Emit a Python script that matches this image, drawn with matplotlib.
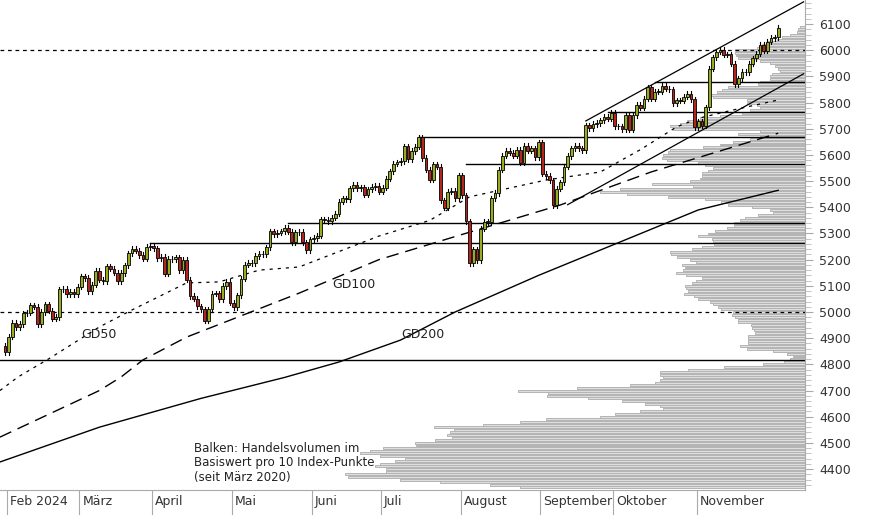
import numpy as np
import matplotlib.pyplot as plt

# daily closes, Jan 31 2024 .. Dec 4 2024
closes = [4846,
    4906, 4958, 4942, 4954, 4995, 4997, 5026, 5021, 4953, 5000, 5029, 5005, 4975, 4981, 5087, 5088, 5069, 5078, 5069, 5096,
    5137, 5130, 5079, 5104, 5157, 5124, 5117, 5175, 5165, 5150, 5117, 5149, 5178, 5224, 5241, 5234, 5218, 5203, 5248, 5254,
    5243, 5205, 5211, 5147, 5204, 5202, 5209, 5160, 5199, 5123, 5061, 5051, 5022, 5011, 4967, 5010, 5070, 5071, 5048, 5099, 5116, 5036,
    5018, 5064, 5128, 5181, 5187, 5187, 5214, 5223, 5221, 5247, 5309, 5297, 5303, 5308, 5321, 5307, 5267, 5304, 5306, 5266, 5235, 5278,
    5283, 5291, 5354, 5352, 5347, 5360, 5375, 5421, 5434, 5431, 5473, 5487, 5473, 5477, 5448, 5469, 5478, 5483, 5460,
    5475, 5509, 5537, 5567, 5572, 5577, 5633, 5584, 5615, 5631, 5667, 5588, 5544, 5505, 5564, 5555, 5427, 5399, 5459, 5463, 5436, 5522,
    5446, 5347, 5186, 5240, 5199, 5319, 5344, 5344, 5434, 5455, 5543, 5597, 5616, 5608, 5597, 5620, 5570, 5634, 5617, 5625, 5592, 5648,
    5528, 5520, 5503, 5408, 5471, 5496, 5555, 5596, 5626, 5634, 5626, 5618, 5713, 5703, 5718, 5722, 5732, 5745, 5738, 5762,
    5709, 5709, 5699, 5751, 5696, 5751, 5792, 5780, 5815, 5859, 5815, 5842, 5841, 5865, 5853, 5851, 5797, 5809, 5808, 5823, 5833, 5813, 5705,
    5728, 5712, 5782, 5929, 5973, 5995, 6001, 5983, 5985, 5949, 5870, 5893, 5917, 5916, 5948, 5969, 5987, 6021, 5999, 6032,
    6047, 6049, 6086]
first_open = 4870

months = ["Feb 2024", "März", "April", "Mai", "Juni", "Juli", "August", "September", "Oktober", "November"]
month_start = [1, 21, 41, 63, 85, 104, 126, 148, 168, 191]

# moving averages (candle index, value)
gd50_idx = [-1.4, 3.6, 12.4, 26, 35, 50, 59, 70, 81, 103, 117, 128, 149, 164, 175, 185, 191, 200, 213]
gd50 = [4700, 4752, 4824, 4943, 5008, 5111, 5115, 5160, 5172, 5290, 5350, 5440, 5504, 5535, 5620, 5707, 5740, 5770, 5810]
gd100_idx = [-1.4, 26, 32, 38, 50, 67, 81, 103, 128, 153, 178, 213]
gd100 = [4522, 4700, 4752, 4817, 4904, 4996, 5072, 5200, 5305, 5409, 5535, 5683]
gd200_idx = [-1.4, 26, 54, 77, 92, 109, 124, 147, 169, 191, 213]
gd200 = [4427, 4560, 4670, 4750, 4809, 4893, 5000, 5140, 5265, 5390, 5465]

# volume profile: left edge in pixels per 10 index points from 4330
vp_levels = np.arange(4330, 6091, 10)
vp_left_px = [520, 490, 440, 400, 348, 345, 386,
    386, 375, 380, 395, 405, 380, 360, 370, 383, 416,
    415, 435, 452, 447, 450, 454, 434, 483, 520, 546,
    600, 615, 640, 663, 660, 645, 622, 588, 547, 548,
    518, 577, 630, 655, 660, 663, 660, 660, 688, 724,
    763, 784, 790, 793, 787, 773, 747, 740, 748, 748,
    748, 748, 755, 754, 752, 751, 738, 738, 735, 732,
    733, 721, 718, 713, 710, 698, 694, 684, 688, 686,
    685, 692, 696, 702, 686, 676, 683, 685, 682, 696,
    690, 677, 671, 670, 692, 702, 714, 713, 712, 698,
    708, 715, 727, 734, 734, 740, 745, 758, 773, 770,
    752, 728, 721, 705, 668, 627, 600, 620, 693, 652,
    690, 700, 702, 702, 708, 713, 705, 698, 667, 662,
    663, 668, 670, 703, 720, 733, 750, 760, 738, 760,
    673, 670, 680, 687, 700, 720, 742, 750, 760, 757,
    747, 747, 713, 710, 717, 722, 728, 758, 760, 770,
    770, 772, 780, 778, 775, 770, 760, 738, 736, 735,
    735, 757, 762, 767, 777, 782, 790, 797, 798, 800]

# support / resistance lines: (price, start index)
levels = [(4815, -2), (5265, 40), (5340, 78), (5668, 114), (5565, 127), (5765, 166), (5878, 179)]
dashed = [6000, 5000]
trend_upper = [(160, 5730), (220, 6185)]
trend_lower = [(155, 5410), (220, 5910)]

fig = plt.figure(figsize=(8.74, 5.15), dpi=100)
ax = fig.add_axes([0, 25 / 515, 805 / 874, 490 / 515])
px = 3.63
xmin = -5 / px
xmax = xmin + 805 / px
ymin, ymax = 4320, 6192
ax.set_xlim(xmin, xmax)
ax.set_ylim(ymin, ymax)

# volume profile
lengths = [(805 - l) / px for l in vp_left_px]
ax.barh(vp_levels, lengths, left=[xmax - L for L in lengths], height=7.5,
        color='#dedede', edgecolor='#b4b4b4', linewidth=0.7, zorder=1)

for p, s in levels:
    ax.plot([s, xmax], [p, p], color='black', lw=1.0, zorder=2)
for p in dashed:
    ax.axhline(p, color='black', lw=0.9, ls=(0, (3, 3)), zorder=2)
ax.plot(*zip(*trend_upper), color='black', lw=0.9, zorder=2)
ax.plot(*zip(*trend_lower), color='black', lw=0.9, zorder=2)

ax.plot(gd50_idx, gd50, color='black', lw=0.9, ls=(0, (2.5, 4)), zorder=2)
ax.plot(gd100_idx, gd100, color='black', lw=1.0, ls=(0, (9, 5)), zorder=2)
ax.plot(gd200_idx, gd200, color='black', lw=1.0, zorder=2)

# candles
opens = [first_open] + closes[:-1]
for i, (o, c) in enumerate(zip(opens, closes)):
    hi, lo = max(o, c) + 10, min(o, c) - 10
    ax.plot([i, i], [lo, hi], color='black', lw=0.8, zorder=3)
    col = '#9aab1e' if c >= o else '#b3261e'
    ax.bar(i, max(abs(c - o), 2), bottom=min(o, c), width=0.75, color=col,
           edgecolor='black', linewidth=0.6, zorder=4)

ax.text(26, 4900, "GD50", fontsize=9, color='#222222', ha='center')
ax.text(96, 5090, "GD100", fontsize=9, color='#222222', ha='center')
ax.text(115, 4900, "GD200", fontsize=9, color='#222222', ha='center')
ax.text(52, 4355, "Balken: Handelsvolumen im\nBasiswert pro 10 Index-Punkte\n(seit März 2020)",
        fontsize=8.5, color='#222222', linespacing=1.15)

# axes styling
for s in ['top', 'left']:
    ax.spines[s].set_visible(False)
ax.spines['right'].set_color('#aaaaaa')
ax.spines['bottom'].set_color('#aaaaaa')
ax.yaxis.tick_right()
ax.set_yticks(range(4400, 6101, 100))
ax.set_yticks(range(4340, 6192, 20), minor=True)
ax.tick_params(axis='y', which='major', length=6, color='#aaaaaa', labelsize=9, labelcolor='#333333', pad=4)
ax.tick_params(axis='y', which='minor', length=4, color='#bbbbbb')
ax.set_xticks([m - 0.5 for m in month_start])
ax.set_xticklabels([])
ax.tick_params(axis='x', length=25, color='#aaaaaa')
for m, lab in zip(month_start, months):
    ax.text(m + 0.3, ymin - 20, lab, fontsize=9, color='#333333', va='top', ha='left', clip_on=False)

fig.savefig('out.png', dpi=100)
